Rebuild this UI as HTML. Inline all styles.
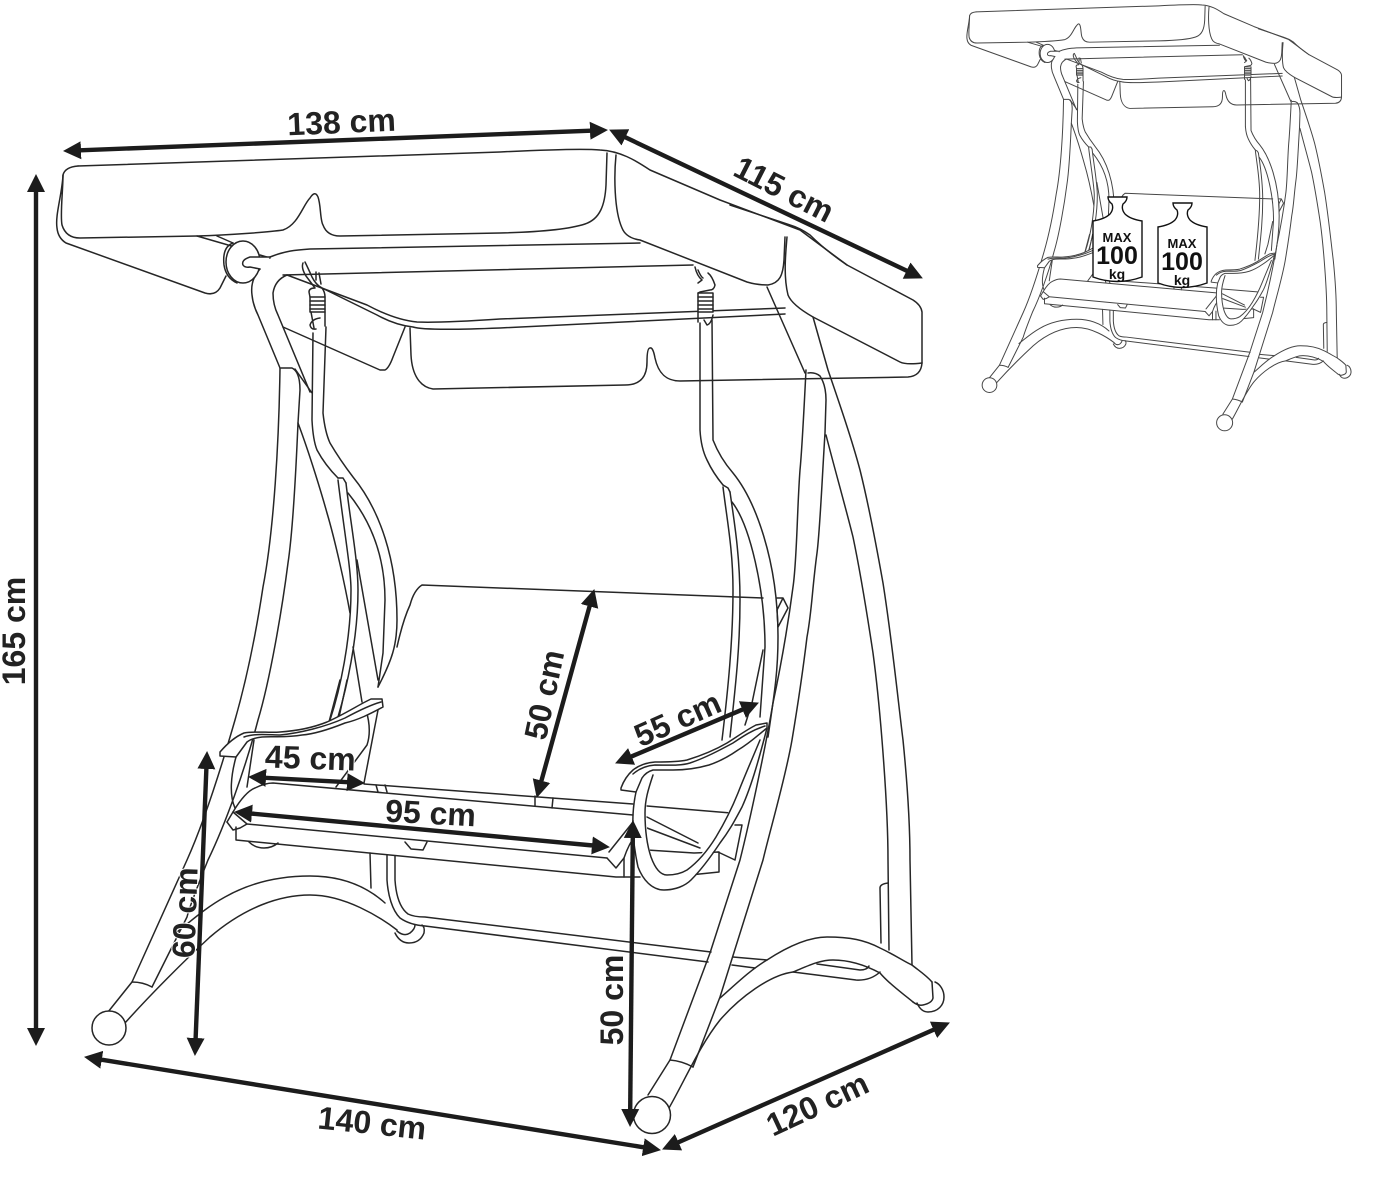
<!DOCTYPE html>
<html><head><meta charset="utf-8"><title>Swing dimensions</title>
<style>
html,body{margin:0;padding:0;background:#fff}
svg{display:block}
.t{font-family:"Liberation Sans",sans-serif;font-weight:bold;font-size:32px;fill:#222;text-anchor:middle;paint-order:stroke;stroke:#fff;stroke-width:2px}
.w{font-family:"Liberation Sans",sans-serif;font-weight:bold;fill:#111;text-anchor:middle}
.a{stroke:#1c1c1c;stroke-width:4.4;fill:none;marker-start:url(#h);marker-end:url(#h)}
</style></head>
<body>
<svg xmlns="http://www.w3.org/2000/svg" width="1386" height="1181" viewBox="0 0 1386 1181">
<defs>
<marker id="h" markerUnits="userSpaceOnUse" markerWidth="20" markerHeight="20" refX="1" refY="10" orient="auto-start-reverse"><path d="M0 1 L18 10 L0 19 Z" fill="#1c1c1c"/></marker>
<g id="s" fill="none" stroke="#262626" stroke-linejoin="round" stroke-linecap="round">
<!-- legs (front left) -->
<path d="M280 368 C279 440 274 530 263 587 C255 640 245 685 235 720 C222 765 205 820 187 860 L132 982 L108 1012"/>
<path d="M281 368 L292 368 Q300 372 300 390 L298 423 C296 470 293 530 288 563 C282 610 270 680 258 720 C245 770 225 825 208 860 C200 880 190 905 187 917 L152 987"/>
<path d="M132 982 Q143 982 152 987"/>
<path d="M298 423 C310 455 322 495 327 513 C335 540 345 585 350 613"/>
<!-- rocker left -->
<path d="M397 930 C380 917 345 895 310 895 C280 895 245 907 210 937 C185 960 150 995 125 1023"/>
<path d="M385 903 C365 885 340 876 310 876 C285 876 255 880 225 897 C205 908 190 922 177 932"/>
<circle cx="109" cy="1028" r="17" fill="#fff"/>
<path d="M395 933 Q400 943 409 943 Q420 943 424 933 Q425 927 422 925"/>
<path d="M397 931 Q404 937 410 933 Q415 929 415 925"/>
<!-- rear tube / crossbar -->
<path d="M370 853 L371 888"/>
<path d="M395 856 L395 880 C396 895 400 908 408 914 Q414 917 425 917 L711 952"/>
<path d="M387 855 L387 880 C388 895 392 910 400 918 Q410 925 425 926 L708 962"/>
<path d="M733 957 L767 960 M732 965 L755 968"/>
<!-- upper frame -->
<path d="M260 269 Q250 280 252 295 Q253 305 258 315 L280 368"/>
<path d="M287 275 Q275 280 273 293 Q273 305 278 315 L310 392"/>
<path d="M283 327 L380 370 L385 370 Q389 368 393 357 Q399 342 405 327"/>
<path d="M295 369 L312 393"/>
<!-- valance / back bar -->
<path d="M287 275 L367 305 Q395 320 417 322 Q440 323 500 319 L785 308"/>
<path d="M320 287 L377 315 Q395 325 413 327 Q425 331 500 328 L785 314"/>
<!-- front bars -->
<path d="M270 257 C285 251 295 250 310 249 L640 243"/>
<path d="M283 275 L693 265"/>
<path d="M197 236 L235 247 M217 236 L233 243 M260 255 L270 258"/>
<!-- rear right legs -->
<path d="M767 287 L805 373"/>
<path d="M813 317 L828 370 C840 405 852 440 860 470 C870 510 878 555 883 583 C892 640 898 700 903 740 C907 780 910 820 910 860 L912 965"/>
<path d="M826 435 C835 470 845 505 853 537 C862 580 868 620 873 653 C878 690 880 715 882 740 C886 790 888 830 888 860 L889 950"/>
<path d="M881 943 L880 888 Q880 884 888 883"/>
<!-- front right leg -->
<path d="M806 370 C804 410 801 460 800 470 C797 510 797 560 793 587 C788 625 780 670 773 703 C765 750 750 820 740 860 L710 953 L670 1060 L648 1095"/>
<path d="M808 373 Q815 372 820 376 Q826 385 826 400 L825 433 C822 480 820 530 817 553 C812 590 812 610 807 637 C803 670 797 710 792 740 C785 780 770 830 763 860 L720 997 L693 1067"/>
<path d="M670 1060 Q682 1061 693 1067"/>
<!-- rocker right -->
<path d="M720 998 C735 985 750 970 767 960 C790 945 810 937 827 937 C850 937 865 940 880 948 C895 955 905 962 912 965 C918 970 926 975 932 982"/>
<path d="M669 1108 C685 1080 700 1045 720 1020 C740 997 770 975 793 972 C810 965 820 960 833 960 C850 960 865 965 880 973 C890 985 905 995 913 1002"/>
<path d="M913 1002 Q918 1006 923 1005 Q932 1003 933 998 L932 982"/>
<path d="M917 1003 Q921 1012 928 1012 C938 1012 944 1005 944 997 C944 990 940 984 935 982"/>
<circle cx="652" cy="1115" r="18.5" fill="#fff"/>
<path d="M817 964 L860 970 Q867 970 869 966 M793 972 L856 980 Q870 981 880 972"/>
<!-- seat back -->
<path d="M397 647 Q403 620 410 605 Q414 590 422 585 L763 598"/>
<path d="M777 598 L783 598 L788 608 L778 627 L777 610 L783 598"/>
<!-- left hanger -->
<path d="M313 333 L312 420 Q313 440 317 450 Q325 465 338 478"/>
<path d="M326 327 L323 413 Q325 432 330 443 Q340 460 353 477 C380 510 397 560 397 620 C397 645 392 660 378 687"/>
<path d="M348 493 C370 520 385 555 385 600 L383 653 L378 687"/>
<path d="M338 478 L343 478 L346 483"/>
<path d="M338 480 C344 530 351 570 351 590 C351 640 340 690 330 720"/>
<path d="M346 483 C350 520 358 560 358 590 C358 640 346 690 338 717"/>
<path d="M357 560 L378 680 M353 647 L362 702"/>
<path d="M340 680 L329 722 M347 680 L338 722"/>
<path d="M366 710 Q372 730 367 745 L336 787 M378 710 L364 783"/>
<!-- right hanger -->
<path d="M700 323 L700 430 Q701 448 707 460 Q713 473 723 485"/>
<path d="M712 320 L713 440 Q720 458 733 473 C755 500 778 560 778 637 C778 670 775 690 768 737"/>
<path d="M732 502 C750 525 765 590 765 647 L760 717"/>
<path d="M723 485 L728 488 L730 492"/>
<path d="M723 487 C727 520 733 550 733 590 C733 640 728 690 722 740"/>
<path d="M730 492 C734 520 740 555 740 600 C740 650 735 690 730 737"/>
<path d="M763 650 L752 703 L745 725"/>
<!-- hooks left -->
<path d="M303 263 Q301 268 306 276 L315 288 Q309 288 309 292 L310 297"/>
<path d="M305 262 Q308 268 312 277 Q316 285 322 288 Q325 292 325 297"/>
<path d="M319 273 L321 284 M316 272 L316 280"/>
<rect x="310" y="297" width="15" height="15" fill="#fff"/>
<path d="M310 301 H325 M310 305 H325 M310 309 H325"/>
<path d="M320 318 Q312 319 310 325 Q311 330 316 329 M325 312 L325 326 M311 312 L314 328"/>
<!-- hooks right -->
<path d="M695 267 Q697 276 702 280 L698 283 M698 270 Q701 277 703 278"/>
<path d="M708 273 Q712 276 715 285 Q714 290 710 290 L700 292 L698 293"/>
<rect x="698" y="293" width="15" height="19" fill="#fff"/>
<path d="M698 297 H713 M698 301 H713 M698 305 H713 M698 309 H713"/>
<path d="M698 312 L698 322 M713 315 Q711 324 707 325 L704 320"/>
<!-- canopy -->
<path d="M78 166 L500 152 C560 149 590 149 600 150 C620 151 635 160 650 170 L720 200 L800 230 L847 265 L913 300 Q921 305 922 312 L922 363 Q921 376 908 377 L680 381 C665 381 658 372 655 358 Q653 347 650 348 Q647 348 647 362 C647 375 642 385 625 385 L433 389 C420 387 412 375 411 355 L410 328"/>
<path d="M78 166 Q65 167 63 175 C62 195 55 215 57 228 Q58 238 66 243 L205 293 Q215 296 220 288 L226 276"/>
<path d="M63 175 C63 190 60 215 62 225 Q66 238 80 238 L197 236 C230 235 270 232 283 230 C298 225 303 205 310 198 Q315 190 318 197 C321 205 320 220 323 225 Q327 236 340 236 L500 233 C540 232 570 229 585 224 C600 219 605 205 606 185 L607 153"/>
<path d="M616 155 C614 175 614 210 622 228 Q626 238 640 240 L747 282 Q757 285 768 285 C780 283 783 275 784 260 L785 237"/>
<path d="M787 237 C786 250 783 275 788 295 Q792 305 813 317 L900 362 Q906 365 922 363"/>
<path d="M730 205 L790 225 Q800 228 810 235 Q825 250 847 265"/>
<!-- pivot -->
<path d="M233 243 Q222 247 224 265 Q226 278 237 283" />
<ellipse cx="243" cy="262" rx="17" ry="21" fill="#fff"/>
<path d="M270 257 L250 257 Q241 260 243 265 Q245 268 250 267 L260 269" fill="#fff"/>
<!-- armrest left -->
<path d="M236 757 C231 775 229 795 235 808"/>
<path d="M254 740 L247 787"/>
<path fill="#fff" d="M220 752 Q232 738 244 733 C255 731 270 733 280 732 C295 731 312 728 327 722 C345 714 360 704 371 699 L382 699 L383 707 C370 714 358 720 345 723 C330 729 315 734 302 735 C285 738 272 736 262 737 Q252 738 247 742 L236 757 L220 756 Z"/>
<path d="M244 737 C255 733 270 735 280 735 C300 733 325 727 345 718 C358 711 370 705 381 702"/>
<!-- seat -->
<path fill="#fff" d="M227 822 L233 812 Q245 792 255 788 Q265 783 273 783 L633 815 L633 822 L607 858 L247 824 L240 828 L233 830 Z" stroke="none"/>
<path d="M227 822 L233 812 Q245 792 255 788 Q265 783 273 783 L633 815"/>
<path d="M233 812 L247 824 L607 858"/>
<path d="M227 822 L233 830 L240 828 L247 824"/>
<path d="M236 827 L236 840 L616 877 L640 877"/>
<path d="M364 784 L633 804 M647 806 L731 813"/>
<path d="M376 785 L378 792 M385 785 L387 792 M535 796 L535 806 M553 798 L552 808"/>
<path d="M249 842 Q255 848 264 848 Q272 848 278 843"/>
<path d="M405 842 L411 849 L423 850 L427 842"/>
<path d="M609 852 L633 822 L640 815 M607 858 L616 868 L624 858 Q630 840 640 830"/>
<path d="M624 858 L624 877 M632 857 L632 877"/>
<path d="M647 817 L698 843 M647 828 L700 848 M647 850 L694 853 M694 853 L719 852 L719 872 L690 875"/>
<path d="M718 852 L735 860 L742 825 L735 825"/>
<!-- right arm loop -->
<path fill="#fff" stroke="none" d="M636 792 L633 830 L638 867 L664 890 L691 880 L720 843 L742 807 L767 728 L760 740 L738 793 L716 837 L687 870 L667 875 L651 857 L645 813 L653 775 Z"/>
<path d="M636 792 C632 810 631 835 638 867 C643 880 652 890 664 890 C675 890 685 886 691 880 C703 868 712 855 720 843 C730 830 735 820 742 807 C752 785 760 755 767 728"/>
<path d="M653 775 C648 790 645 800 645 813 C645 830 647 845 651 857 C655 868 660 875 667 875 C675 875 682 873 687 870 C698 862 708 850 716 837 C725 822 732 808 738 793 C745 775 753 757 760 740"/>
<path fill="#fff" d="M621 788 Q625 777 633 770 Q642 763 655 762 C665 762 678 762 687 760 C700 756 715 750 727 743 C738 736 748 729 756 725 L767 723 L767 728 C758 735 750 743 738 750 C728 757 718 762 709 765 C695 769 683 770 673 770 L653 770 Q646 772 642 778 L636 792 L621 790 Z"/>
<path d="M633 774 Q642 766 655 765 C668 765 680 766 690 763 C705 758 720 750 733 743 C742 737 752 730 765 726"/>
</g>
</defs>

<!-- main drawing -->
<use href="#s" stroke-width="1.5"/>

<!-- dimension arrows -->
<line class="a" x1="80" y1="150.3" x2="591" y2="130.7"/>
<line class="a" x1="624.5" y1="136.9" x2="907.5" y2="271.1"/>
<line class="a" x1="36" y1="191" x2="36" y2="1029"/>
<line class="a" x1="206.4" y1="768" x2="195.6" y2="1039"/>
<line class="a" x1="100.8" y1="1059.6" x2="644.2" y2="1147.4"/>
<line class="a" x1="677.6" y1="1142.6" x2="934.4" y2="1029.4"/>
<line class="a" x1="632.8" y1="837" x2="630.2" y2="1110"/>
<line class="a" x1="589.8" y1="605.4" x2="541.2" y2="781.6"/>
<line class="a" x1="630.7" y1="756.8" x2="743.3" y2="709.2"/>
<line class="a" x1="265" y1="777.8" x2="348" y2="782.2"/>
<line class="a" x1="251" y1="813.5" x2="593" y2="845.5"/>

<!-- labels -->
<text class="t" transform="translate(342 133) rotate(-2.5)">138 cm</text>
<text class="t" transform="translate(779 199) rotate(27)">115 cm</text>
<text class="t" transform="translate(25 631) rotate(-90)">165 cm</text>
<text class="t" transform="translate(196 913) rotate(-88)">60 cm</text>
<text class="t" transform="translate(555 697) rotate(-78)">50 cm</text>
<text class="t" transform="translate(682 729) rotate(-24)">55 cm</text>
<text class="t" transform="translate(310 769) rotate(2)">45 cm</text>
<text class="t" transform="translate(430 824) rotate(3)">95 cm</text>
<text class="t" transform="translate(623 1000) rotate(-90)">50 cm</text>
<text class="t" transform="translate(371 1134) rotate(6)">140 cm</text>
<text class="t" transform="translate(822 1114) rotate(-25)">120 cm</text>

<!-- thumbnail -->
<g transform="translate(942.3 -60) scale(.433)" opacity=".85"><use href="#s" stroke-width="2.3"/></g>
<path fill="#fff" stroke="#111" stroke-width="1.4" d="M1108 197 L1127 197 Q1127 201 1123 204 Q1121 209 1125 214 Q1130 219 1142 221 L1142 277 Q1117 286 1093 277 L1093 221 Q1105 219 1110 214 Q1114 209 1112 204 Q1108 201 1108 197 Z"/>
<path fill="#fff" stroke="#111" stroke-width="1.4" d="M1173 203 L1192 203 Q1192 207 1188 210 Q1186 215 1190 220 Q1195 225 1207 227 L1207 283 Q1182 292 1158 283 L1158 227 Q1170 225 1175 220 Q1179 215 1177 210 Q1173 207 1173 203 Z"/>
<text class="w" x="1117" y="242" font-size="13">MAX</text>
<text class="w" x="1117" y="264" font-size="25">100</text>
<text class="w" x="1117" y="279" font-size="14">kg</text>
<text class="w" x="1182" y="248" font-size="13">MAX</text>
<text class="w" x="1182" y="270" font-size="25">100</text>
<text class="w" x="1182" y="285" font-size="14">kg</text>
</svg>
</body></html>
